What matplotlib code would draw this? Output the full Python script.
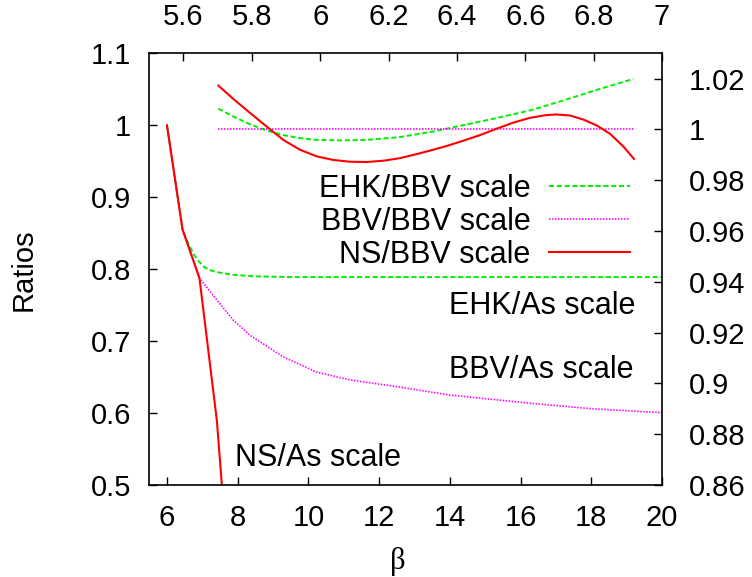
import matplotlib
matplotlib.use("Agg")
import matplotlib.pyplot as plt
from matplotlib.ticker import FuncFormatter

plt.rcParams['font.family'] = ['Liberation Sans', 'DejaVu Sans']

# ---- data: ratios relative to the As scale (bottom / left axes) ----
ns_as_beta = [6.0, 6.44, 6.92, 7.41, 7.9]
ns_as = [1.0, 0.855, 0.787, 0.590, 0.28]

ehk_as_beta = [6.0, 6.44, 6.6, 6.75, 6.9, 7.05, 7.25, 7.5, 7.9, 8.5, 9.5, 11.0, 13.0, 16.0, 20.0]
ehk_as = [1.0, 0.855, 0.836, 0.821, 0.811, 0.803, 0.798, 0.795, 0.792, 0.790, 0.789, 0.789, 0.789, 0.789, 0.789]

bbv_as_beta = [6.0, 6.44, 6.93, 7.41, 7.88, 8.35, 9.29, 10.23, 11.18, 12.6, 14.0, 16.3, 18.0, 20.0]
bbv_as = [1.0, 0.855, 0.787, 0.757, 0.729, 0.708, 0.678, 0.657, 0.646, 0.636, 0.625, 0.6135, 0.606, 0.6005]

# ---- data: ratios relative to the BBV scale (top / right axes) ----
ehk_bbv_beta = [5.702, 5.746, 5.795, 5.843, 5.892, 5.941, 5.990, 6.058, 6.136, 6.233,
                6.33, 6.419, 6.516, 6.614, 6.711, 6.809, 6.916]
ehk_bbv = [1.0082, 1.0051, 1.0020, 0.9996, 0.9978, 0.9966, 0.9959, 0.9957, 0.9959, 0.9970,
           0.9992, 1.0017, 1.0045, 1.0075, 1.0114, 1.0156, 1.0199]

bbv_bbv_beta = [5.702, 6.918]
bbv_bbv = [1.0, 1.0]

ns_bbv_beta = [5.702, 5.746, 5.795, 5.843, 5.892, 5.941, 5.990, 6.038, 6.087, 6.136,
               6.185, 6.233, 6.282, 6.33, 6.370, 6.419, 6.468, 6.516, 6.565, 6.614,
               6.663, 6.692, 6.731, 6.770, 6.809, 6.848, 6.887, 6.918]
ns_bbv = [1.0173, 1.0120, 1.0065, 1.0012, 0.9959, 0.9920, 0.9894, 0.9880, 0.9873, 0.9872,
          0.9877, 0.9887, 0.9903, 0.9920, 0.9935, 0.9956, 0.9978, 1.0003, 1.0027, 1.0046,
          1.0057, 1.0059, 1.0055, 1.0039, 1.0016, 0.9983, 0.9933, 0.9884]

bottom_ticks = [6, 8, 10, 12, 14, 16, 18, 20]
left_ticks = [0.5, 0.6, 0.7, 0.8, 0.9, 1.0, 1.1]
top_ticks = [5.6, 5.8, 6.0, 6.2, 6.4, 6.6, 6.8, 7.0]
right_ticks = [0.86, 0.88, 0.90, 0.92, 0.94, 0.96, 0.98, 1.00, 1.02]

GREEN = '#00ee00'
MAGENTA = '#ff00ff'
RED = '#ff0000'
FS = 21
FS_TXT = 22

fig = plt.figure(figsize=(7.52, 5.77), dpi=100)
rect = [149.3 / 752, 1 - 485 / 577, (662 - 149.3) / 752, (485 - 53.3) / 577]
ax = fig.add_axes(rect)
ax2 = fig.add_axes(rect, frameon=False)

fmt = FuncFormatter(lambda v, p: f"{v:g}")

# primary axes
ax.plot(ehk_as_beta, ehk_as, color=GREEN, lw=1.4, linestyle=(0, (2.6, 1.4)))
ax.plot(bbv_as_beta, bbv_as, color=MAGENTA, lw=1.2, linestyle=(0, (0.9, 0.9)))
ax.plot(ns_as_beta, ns_as, color=RED, lw=1.5)
ax.set_xlim(5.5, 20)
ax.set_ylim(0.5, 1.1)
ax.set_xticks(bottom_ticks)
ax.set_yticks(left_ticks)
ax.xaxis.set_major_formatter(fmt)
ax.yaxis.set_major_formatter(fmt)
ax.tick_params(direction='in', length=6, width=1, labelsize=FS, top=False, right=False)
ax.tick_params(axis='x', pad=14)
ax.tick_params(axis='y', pad=13)
for s in ax.spines.values():
    s.set_linewidth(1.2)

# secondary axes
ax2.plot(ehk_bbv_beta, ehk_bbv, color=GREEN, lw=1.4, linestyle=(0, (2.6, 1.4)), label='EHK/BBV scale')
ax2.plot(bbv_bbv_beta, bbv_bbv, color=MAGENTA, lw=1.2, linestyle=(0, (0.9, 0.9)), label='BBV/BBV scale')
ax2.plot(ns_bbv_beta, ns_bbv, color=RED, lw=1.5, label='NS/BBV scale')
ax2.set_xlim(5.5, 7.0)
ax2.set_ylim(0.86, 1.03)
ax2.xaxis.tick_top()
ax2.yaxis.tick_right()
ax2.set_xticks(top_ticks)
ax2.set_yticks(right_ticks)
ax2.xaxis.set_major_formatter(fmt)
ax2.yaxis.set_major_formatter(fmt)
ax2.tick_params(direction='in', length=6, width=1, labelsize=FS)
ax2.tick_params(axis='x', pad=16)
ax2.tick_params(axis='y', pad=19)

leg = ax2.legend(loc='center right', bbox_to_anchor=(630 / 752, 1 - 221.7 / 577),
                 bbox_transform=fig.transFigure, frameon=False, fontsize=FS_TXT,
                 markerfirst=False, handlelength=2.65, handletextpad=0.6,
                 labelspacing=0.1, borderpad=0, borderaxespad=0)
for col in leg._legend_box._children[-1]._children:
    col.align = 'right'

# curve labels
ax.text(19.24, 0.749, 'EHK/As scale', fontsize=FS_TXT, ha='right', va='center')
ax.text(19.18, 0.660, 'BBV/As scale', fontsize=FS_TXT, ha='right', va='center')
ax.text(7.93, 0.538, 'NS/As scale', fontsize=FS_TXT, ha='left', va='center')

fig.text(24 / 752, 1 - 269.5 / 577, 'Ratios', fontsize=FS, rotation=90, ha='center', va='center')
fig.text(398 / 752, 1 - 561 / 577, 'β', fontsize=22, family='Liberation Serif', ha='center', va='center')

fig.savefig('out.png', dpi=100)
